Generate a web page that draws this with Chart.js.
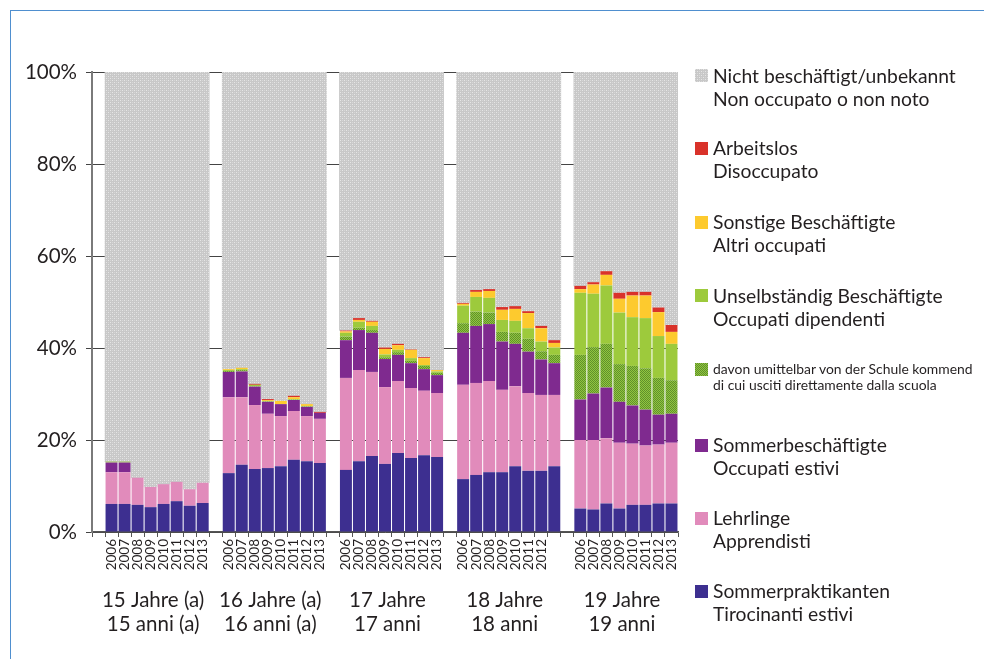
<!DOCTYPE html>
<html><head><meta charset="utf-8">
<script src="https://cdn.jsdelivr.net/npm/chart.js@4.4.0/dist/chart.umd.min.js"></script>
<style>
html,body{margin:0;padding:0;background:#fff;}
#wrap{position:relative;width:984px;height:659px;overflow:hidden;font-family:Lato,sans-serif;color:#231f20;}
#frame{position:absolute;left:10px;top:10px;width:990px;height:700px;border-left:1px solid #4f8fcf;border-top:1px solid #4f8fcf;}
#c{position:absolute;left:0;top:0;}
.lg{position:absolute;left:713px;white-space:nowrap;font-size:19.3px;line-height:23px;}
.lg.small{font-size:13.9px;line-height:16px;}
.sw{position:absolute;left:695px;width:13px;height:13px;image-rendering:pixelated;}
</style></head>
<body><div id="wrap"><div id="frame"></div><canvas id="c" width="984" height="659"></canvas></div>
<script>
// ---- data ----
const years = ['2006','2007','2008','2009','2010','2011','2012','2013'];
const groupsDe = ['15 Jahre (a)','16 Jahre (a)','17 Jahre','18 Jahre','19 Jahre'];
const groupsIt = ['15 anni (a)','16 anni (a)','17 anni','18 anni','19 anni'];
// year tick labels per group (the 18-year group shows no 2013 label in the original)
const groupYearLabels = [
  ['2006','2007','2008','2009','2010','2011','2012','2013'],
  ['2006','2007','2008','2009','2010','2011','2012','2013'],
  ['2006','2007','2008','2009','2010','2011','2012','2013'],
  ['2006','2007','2008','2009','2010','2011','2012',''],
  ['2006','2007','2008','2009','2010','2011','2012','2013']
];
const sommerpraktikanten = [
  6.1,6.1,5.9,5.4,6.1,6.7,5.7,6.3,
  12.8,14.6,13.7,13.9,14.3,15.7,15.4,15.0,
  13.5,15.4,16.5,14.8,17.2,16.1,16.7,16.3,
  11.5,12.4,13.0,13.0,14.3,13.3,13.3,14.3,
  5.1,4.9,6.2,5.1,5.9,5.9,6.2,6.2];
const lehrlinge = [
  6.9,6.9,5.9,4.4,4.3,4.2,3.6,4.4,
  16.5,14.7,13.9,11.8,10.9,10.6,9.8,9.6,
  20.0,19.8,18.3,16.7,15.6,15.2,14.0,13.9,
  20.5,20.0,19.8,17.9,17.4,16.9,16.5,15.5,
  14.9,15.1,14.2,14.3,13.3,12.9,12.8,13.2];
const sommerbeschaeftigte = [
  2.1,2.1,0,0,0,0,0,0,
  5.5,5.6,4.0,2.6,2.6,2.4,2.0,1.3,
  8.2,8.7,8.5,6.1,5.7,5.4,4.7,3.9,
  11.3,12.4,12.4,10.5,9.2,9.0,7.7,6.9,
  8.8,10.1,11.0,8.9,8.3,7.8,6.5,6.3];
const direktVonSchule = [
  0,0,0,0,0,0,0,0,
  0.2,0.3,0.1,0.1,0,0.1,0.1,0,
  0.8,0.5,0.6,0.4,0.6,0.5,0.7,0.5,
  2.1,3.1,2.5,2.1,2.4,2.8,1.8,1.8,
  9.7,10.1,9.5,8.2,8.6,9.0,8.0,7.3];
const unselbstaendigUebrige = [
  0.2,0.2,0,0,0,0,0,0,
  0.2,0.2,0.3,0.1,0,0.1,0.1,0,
  0.8,1.3,0.9,0.6,0.5,0.6,0.2,0.3,
  3.8,3.2,3.2,2.6,2.6,2.3,2.1,1.6,
  13.5,11.6,12.7,11.2,10.6,10.9,9.1,7.9];
const sonstige = [
  0,0,0,0,0,0,0,0,
  0.2,0.3,0,0.2,0.7,0.4,0.4,0,
  0.3,0.4,0.9,1.2,1.0,1.8,1.5,0.3,
  0.4,1.1,1.5,2.2,2.6,3.3,2.9,1.0,
  0.8,2.0,2.3,3.0,4.7,4.9,5.2,2.6];
const arbeitslos = [
  0,0,0,0,0,0,0,0,
  0,0,0.2,0.2,0,0.3,0,0.2,
  0.2,0.4,0.2,0.3,0.3,0.1,0.2,0,
  0.2,0.4,0.4,0.6,0.6,0.4,0.5,0.6,
  0.7,0.5,0.8,1.3,0.8,0.8,1.0,1.5];
const nichtBeschaeftigt = [
  84.7,84.7,88.2,90.2,89.6,89.1,90.7,89.3,
  64.6,64.3,67.8,71.1,71.5,70.4,72.2,73.9,
  56.2,53.5,54.1,59.9,59.1,60.3,62.0,64.8,
  50.2,47.4,47.2,51.1,50.9,52.0,55.2,58.3,
  46.5,45.7,43.3,48.0,47.8,47.8,51.2,55.0];
const yTicks = [0,20,40,60,80,100];

// ---- build category axis: a blank slot before each group ----
const labels = [];
groupYearLabels.forEach(g => { labels.push(' '); g.forEach(y => labels.push(y)); });
function expand(arr){
  const out=[];
  for(let g=0; g<groupsDe.length; g++){ out.push(null); for(let i=0;i<years.length;i++) out.push(arr[g*years.length+i]); }
  return out;
}

// ---- patterns ----
function tile(w,h,fn){const c=document.createElement('canvas');c.width=w;c.height=h;fn(c.getContext('2d'));return c;}
const grayTile = tile(4,4,g=>{g.fillStyle='#c8c8c8';g.fillRect(0,0,4,4);g.fillStyle='#e6e6e6';g.fillRect(0,0,1,1);g.fillRect(2,2,1,1);g.fillStyle='#d6d6d6';g.fillRect(2,0,1,1);g.fillRect(0,2,1,1);});
const hatchTile = tile(2,2,g=>{g.fillStyle='#92c63f';g.fillRect(0,0,2,2);g.fillStyle='#5f8f2c';g.fillRect(0,0,1,1);g.fillRect(1,1,1,1);});
const ctx = document.getElementById('c').getContext('2d');
const grayPat = ctx.createPattern(grayTile,'repeat');
const hatchPat = ctx.createPattern(hatchTile,'repeat');

const colBlue='#3d2f90', colPink='#e18bbb', colPurple='#7f2a8f', colGreen='#9dca3c', colYellow='#fdca2e', colRed='#d9322a';

const barOpts = {categoryPercentage:0.92, barPercentage:1.0, borderWidth:0};
const datasets = [
  {label:'Sommerpraktikanten', data:expand(sommerpraktikanten), backgroundColor:colBlue, ...barOpts},
  {label:'Lehrlinge', data:expand(lehrlinge), backgroundColor:colPink, ...barOpts},
  {label:'Sommerbeschäftigte', data:expand(sommerbeschaeftigte), backgroundColor:colPurple, ...barOpts},
  {label:'davon umittelbar von der Schule kommend', data:expand(direktVonSchule), backgroundColor:hatchPat, ...barOpts},
  {label:'Unselbständig Beschäftigte', data:expand(unselbstaendigUebrige), backgroundColor:colGreen, ...barOpts},
  {label:'Sonstige Beschäftigte', data:expand(sonstige), backgroundColor:colYellow, ...barOpts},
  {label:'Arbeitslos', data:expand(arbeitslos), backgroundColor:colRed, ...barOpts},
  {label:'Nicht beschäftigt/unbekannt', data:expand(nichtBeschaeftigt), backgroundColor:grayPat, categoryPercentage:1.0, barPercentage:1.0, borderWidth:0}
];

const groupLabelPlugin = {
  id:'groupLabels',
  afterDraw(chart){
    const xs = chart.scales.x, c = chart.ctx, bottom = chart.chartArea.bottom;
    c.save();
    c.font = '20.5px Lato'; c.fillStyle = '#231f20'; c.textAlign = 'center'; c.textBaseline = 'alphabetic';
    groupsDe.forEach((g,gi)=>{
      const first = gi*(years.length+1)+1, last = first+years.length-1;
      const cx = (xs.getPixelForValue(first)+xs.getPixelForValue(last))/2 - 4;
      c.fillText(g, cx, bottom+75);
      c.fillText(groupsIt[gi], cx, bottom+99);
    });
    c.restore();
  }
};

new Chart(ctx, {
  type:'bar',
  data:{labels, datasets},
  plugins:[groupLabelPlugin],
  options:{
    responsive:false, animation:false, devicePixelRatio:1,
    layout:{padding:{left:0,right:306,top:72,bottom:0}},
    plugins:{legend:{display:false}, tooltip:{enabled:false}},
    scales:{
      x:{
        stacked:true,
        grid:{display:true, drawOnChartArea:false, drawTicks:true, tickLength:5, color:'#555', offset:true},
        border:{display:true, color:'#555', width:1.5},
        ticks:{autoSkip:false, maxRotation:90, minRotation:90, font:{family:'Lato', size:13.5}, color:'#231f20', padding:2},
        afterFit(s){ s.height = 127; }
      },
      y:{
        stacked:true, min:0, max:100,
        afterBuildTicks(s){ s.ticks = yTicks.map(v=>({value:v})); },
        ticks:{callback:v=>v+'%', font:{family:'Lato', size:20.5}, color:'#231f20', padding:9},
        grid:{color:'#444', lineWidth:1, tickLength:6},
        border:{display:true, color:'#7a7a7a', width:2},
        afterFit(s){ s.width = 92; }
      }
    }
  }
});

// ---- legend (HTML text) ----
const legendDe = ['Nicht beschäftigt/unbekannt','Arbeitslos','Sonstige Beschäftigte','Unselbständig Beschäftigte','davon umittelbar von der Schule kommend','Sommerbeschäftigte','Lehrlinge','Sommerpraktikanten'];
const legendIt = ['Non occupato o non noto','Disoccupato','Altri occupati','Occupati dipendenti','di cui usciti direttamente dalla scuola','Occupati estivi','Apprendisti','Tirocinanti estivi'];
const legendSwatch = ['url('+grayTile.toDataURL()+')', colRed, colYellow, colGreen, 'url('+hatchTile.toDataURL()+')', colPurple, colPink, colBlue];
const legendBaseline = [82.7,155.3,229.3,302.7,375,452,525,598];
const wrap = document.getElementById('wrap');
legendDe.forEach((de,i)=>{
  const small = i===4;
  const d = document.createElement('div');
  d.className = 'lg' + (small?' small':'');
  const asc = small ? 13.9 : 19.1;
  d.style.top = (legendBaseline[i]-asc)+'px';
  d.innerHTML = de + '<br>' + legendIt[i];
  wrap.appendChild(d);
  const s = document.createElement('div');
  s.className = 'sw';
  s.style.top = (legendBaseline[i] - (small?12.5:13.5))+'px';
  if (legendSwatch[i].startsWith('url')) { s.style.backgroundImage = legendSwatch[i]; s.style.backgroundSize = (i===0?'4px 4px':'2px 2px'); }
  else s.style.background = legendSwatch[i];
  wrap.appendChild(s);
});
</script>
</body></html>
